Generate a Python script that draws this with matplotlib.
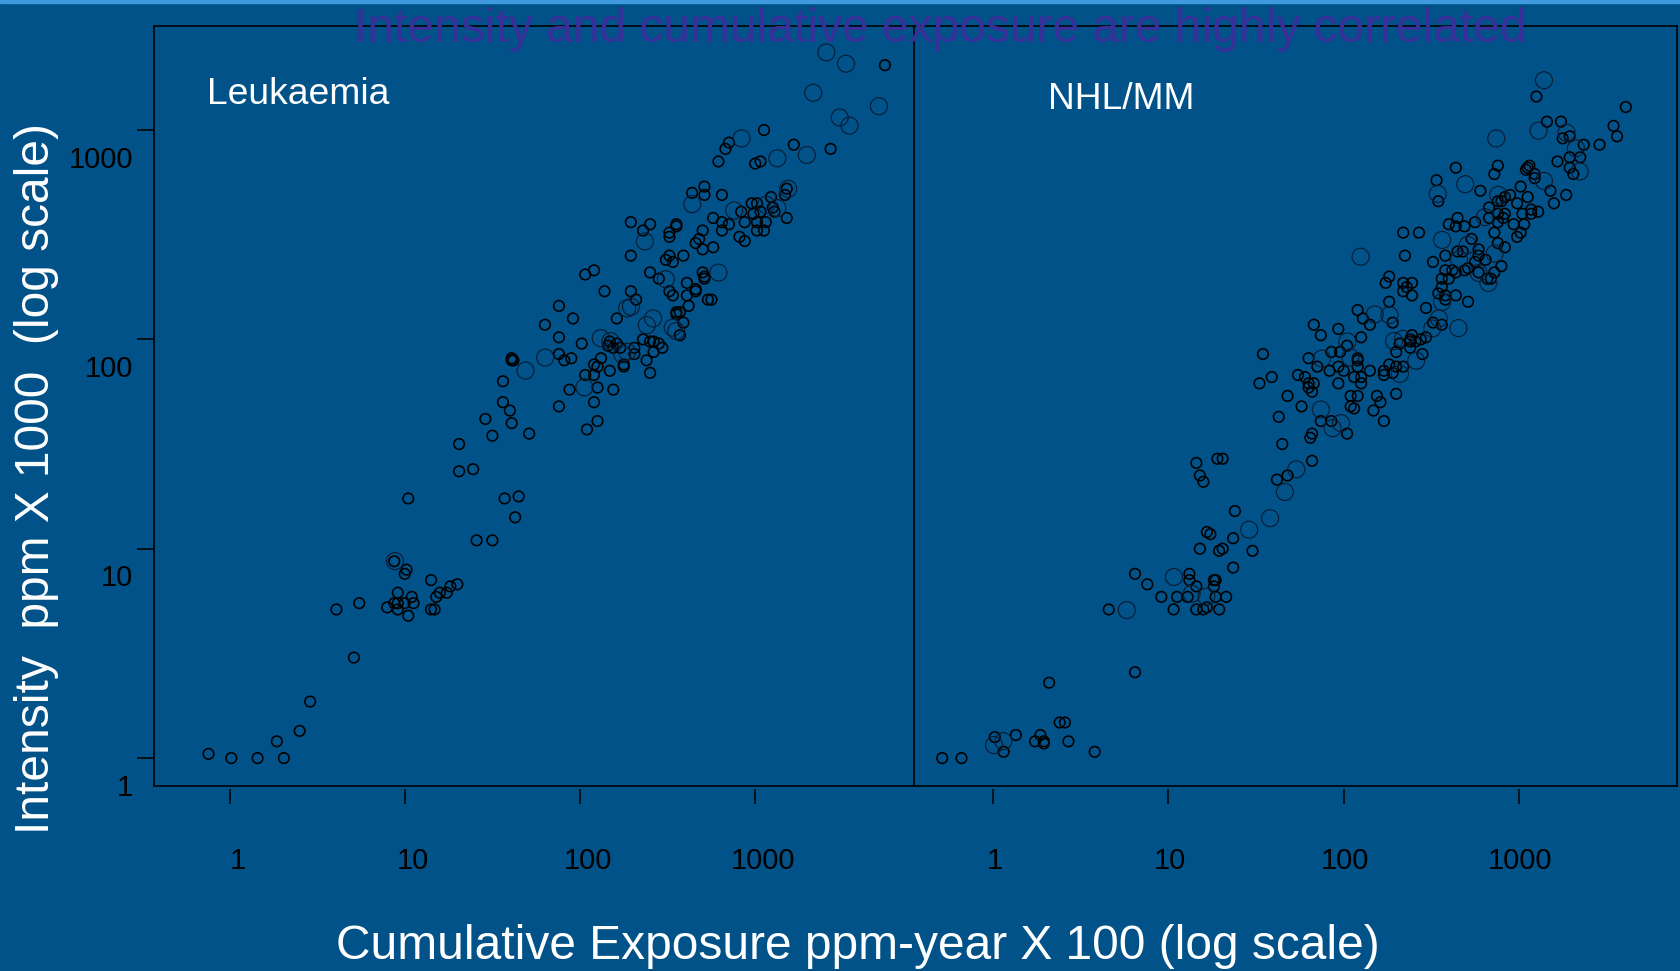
import numpy as np
import matplotlib
matplotlib.use("Agg")
import matplotlib.pyplot as plt
from matplotlib.path import Path
from matplotlib.transforms import ScaledTranslation

plt.rcParams['font.family'] = ['Liberation Sans', 'DejaVu Sans']

x_ticks = [1, 10, 100, 1000]
y_ticks = [1, 10, 100, 1000]
tick_labels = ['1', '10', '100', '1000']
panel_names = ['Leukaemia', 'NHL/MM']
title_text = 'Intensity and cumulative exposure are highly correlated'
x_title = 'Cumulative Exposure ppm-year X 100 (log scale)'
y_title = 'Intensity  ppm X 1000  (log scale)'

# (log10 cumulative exposure, log10 intensity)
leuk_large = [(3.406,3.371),(3.518,3.317),(3.331,3.178),(3.706,3.114),(3.482,3.060),(3.538,3.021),(2.922,2.960),
 (3.294,2.881),(3.126,2.865),(2.641,2.646),(3.188,2.719),(3.062,2.643),(2.880,2.616),(3.126,2.627),(2.370,2.468),
 (2.490,2.287),(2.790,2.319),(2.291,2.156),(2.269,2.148),(2.417,2.100),(2.381,2.068),(2.529,2.056),(2.549,2.040),
 (2.118,2.006),(2.174,1.992),(2.269,1.940),(2.241,1.929),(1.801,1.913),(1.689,1.851),(2.025,1.771),(0.944,0.941)]
leuk_small = [(3.74,3.31),(3.05,3.00),(2.85,2.94),(2.83,2.91),(3.22,2.93),(3.43,2.91),(2.79,2.85),(3.00,2.84),(3.03,2.85),
 (2.71,2.73),(2.64,2.70),(2.71,2.69),(2.81,2.69),(3.18,2.72),(3.17,2.69),(3.09,2.68),(2.98,2.65),(3.01,2.65),(2.92,2.61),
 (3.10,2.63),(3.11,2.61),(3.03,2.61),(2.99,2.60),(2.76,2.58),(3.18,2.58),(2.81,2.56),(2.85,2.55),(2.94,2.56),(3.01,2.56),
 (3.06,2.56),(2.29,2.56),(2.40,2.55),(2.55,2.55),(2.55,2.54),(2.36,2.52),(2.51,2.51),(2.51,2.49),(2.70,2.52),(2.81,2.52),
 (3.01,2.52),(3.05,2.52),(2.68,2.48),(2.66,2.46),(2.70,2.43),(2.76,2.44),(2.91,2.49),(2.94,2.47),(2.29,2.40),(2.51,2.40),
 (2.49,2.38),(2.59,2.40),(2.53,2.37),(2.08,2.33),(2.03,2.31),(2.40,2.32),(2.45,2.29),(2.70,2.32),(2.71,2.30),(2.71,2.29),
 (2.61,2.27),(2.66,2.24),(2.66,2.23),(2.14,2.23),(2.29,2.23),(2.51,2.23),(2.53,2.21),(2.61,2.21),(2.32,2.19),(2.73,2.19),
 (2.75,2.19),(1.88,2.16),(2.62,2.16),(2.55,2.13),(2.57,2.13),(2.55,2.12),(1.96,2.10),(2.21,2.10),(1.80,2.07),(2.59,2.08),
 (2.57,2.02),(1.88,2.01),(2.17,1.99),(2.01,1.98),(2.16,1.97),(2.21,1.98),(2.36,2.00),(2.40,1.99),(2.42,1.99),(2.45,1.98),
 (2.19,1.96),(2.23,1.96),(2.31,1.96),(2.47,1.96),(2.42,1.94),(1.88,1.93),(1.95,1.91),(1.91,1.90),(2.31,1.93),(2.12,1.91),
 (1.61,1.91),(1.62,1.90),(1.61,1.90),(2.38,1.90),(2.08,1.88),(2.25,1.88),(2.25,1.87),(2.10,1.87),(2.17,1.85),(2.03,1.83),
 (2.08,1.83),(2.40,1.84),(1.56,1.80),(2.10,1.77),(1.94,1.76),(2.19,1.76),(2.08,1.70),(1.56,1.70),(1.88,1.68),(1.60,1.66),
 (1.46,1.62),(1.61,1.60),(2.10,1.61),(2.04,1.57),(1.50,1.54),(1.71,1.55),(1.31,1.50),(1.31,1.37),(1.39,1.38),(1.02,1.24),
 (1.57,1.24),(1.65,1.25),(1.63,1.15),(1.41,1.04),(1.50,1.04),(0.94,0.94),(1.01,0.90),(1.00,0.88),(1.15,0.85),(1.30,0.83),
 (1.26,0.82),(1.20,0.79),(1.24,0.79),(0.96,0.79),(1.04,0.77),(1.18,0.77),(0.74,0.74),(0.94,0.74),(0.96,0.74),(1.00,0.74),
 (1.05,0.74),(0.90,0.72),(0.96,0.71),(0.61,0.71),(1.15,0.71),(1.17,0.71),(1.02,0.68),(0.71,0.48),(0.46,0.27),(0.40,0.13),
 (0.27,0.08),(-0.12,0.02),(0.01,0.00),(0.16,0.00),(0.31,0.00)]
nhl_large = [(3.143,3.238),(2.871,2.960),(3.112,2.997),(3.272,2.987),(3.325,2.913),(3.347,2.802),(3.143,2.757),(2.694,2.741),
 (2.537,2.695),(2.882,2.690),(2.806,2.584),(2.562,2.475),(2.708,2.451),(2.097,2.395),(2.862,2.410),(2.658,2.381),(2.770,2.317),
 (2.826,2.270),(2.562,2.179),(2.262,2.116),(2.178,2.119),(2.543,2.100),(2.506,2.052),(2.655,2.054),(2.021,1.990),(2.288,1.992),
 (2.338,2.003),(1.876,1.908),(2.038,1.914),(2.414,1.898),(2.321,1.835),(1.870,1.665),(1.985,1.600),(1.937,1.576),(1.730,1.379),
 (1.665,1.271),(1.581,1.146),(1.461,1.091),(1.032,0.865),(1.133,0.785),(1.217,0.771),(0.763,0.707),(0.059,0.081),(0.006,0.062)]
nhl_small = [(3.10,3.16),(3.61,3.11),(3.16,3.04),(3.24,3.04),(3.54,3.02),(3.56,2.97),(3.25,2.96),(3.29,2.97),(3.37,2.93),
 (3.46,2.93),(3.22,2.85),(3.29,2.87),(3.35,2.87),(3.29,2.82),(3.31,2.79),(2.88,2.83),(2.86,2.79),(2.64,2.82),(3.06,2.83),
 (3.05,2.82),(3.04,2.81),(3.09,2.79),(3.09,2.77),(2.53,2.76),(2.54,2.66),(2.78,2.71),(3.01,2.73),(3.18,2.71),(3.27,2.69),
 (2.95,2.69),(2.92,2.68),(2.90,2.66),(2.88,2.66),(3.05,2.68),(2.99,2.65),(3.20,2.65),(2.83,2.63),(3.07,2.62),(3.07,2.60),
 (3.11,2.61),(3.02,2.60),(2.88,2.60),(2.92,2.60),(2.91,2.58),(2.83,2.58),(2.65,2.58),(2.88,2.56),(2.75,2.56),(2.60,2.55),
 (2.64,2.54),(2.69,2.54),(2.97,2.55),(3.03,2.55),(2.34,2.51),(2.43,2.51),(2.86,2.51),(3.01,2.51),(2.99,2.49),(2.73,2.48),
 (2.88,2.46),(2.92,2.44),(2.77,2.43),(2.65,2.42),(2.68,2.42),(2.35,2.40),(2.58,2.40),(2.77,2.40),(2.51,2.37),(2.81,2.38),
 (2.75,2.37),(2.90,2.35),(2.71,2.34),(2.62,2.33),(2.58,2.33),(2.64,2.32),(2.69,2.33),(2.86,2.32),(2.77,2.32),(2.82,2.29),
 (2.84,2.29),(2.60,2.29),(2.56,2.29),(2.26,2.30),(2.34,2.27),(2.24,2.27),(2.39,2.27),(2.36,2.25),(2.34,2.23),(2.39,2.21),
 (2.56,2.25),(2.54,2.22),(2.58,2.21),(2.64,2.21),(2.58,2.19),(2.71,2.18),(2.26,2.18),(2.47,2.15),(2.08,2.14),(2.11,2.10),
 (2.15,2.07),(2.28,2.08),(2.51,2.08),(2.56,2.07),(1.83,2.07),(1.97,2.05),(1.87,2.02),(2.10,2.01),(2.02,1.97),(2.39,2.02),
 (2.47,2.01),(2.44,2.00),(2.38,2.00),(2.38,1.99),(2.41,1.99),(2.32,1.98),(2.38,1.96),(2.30,1.94),(1.93,1.94),(1.98,1.94),
 (1.54,1.93),(1.80,1.91),(2.45,1.93),(2.08,1.91),(2.08,1.90),(2.26,1.88),(2.30,1.87),(2.34,1.87),(1.85,1.87),(1.97,1.87),
 (2.08,1.87),(1.92,1.85),(2.00,1.85),(2.15,1.85),(2.23,1.85),(2.23,1.83),(2.28,1.84),(1.74,1.83),(1.78,1.82),(1.59,1.82),
 (1.52,1.79),(1.83,1.79),(1.80,1.79),(1.80,1.77),(1.82,1.75),(1.97,1.79),(2.06,1.82),(2.10,1.82),(2.10,1.79),(2.30,1.74),
 (1.68,1.73),(2.04,1.73),(2.08,1.73),(2.19,1.73),(2.21,1.70),(1.76,1.68),(2.04,1.68),(2.06,1.67),(2.17,1.66),
 (1.63,1.63),(1.87,1.61),(1.93,1.61),(2.23,1.61),(2.02,1.55),(1.82,1.55),(1.81,1.53),(1.65,1.50),(1.16,1.41),(1.28,1.43),
 (1.31,1.43),(1.82,1.42),(1.18,1.35),(1.20,1.32),(1.62,1.33),(1.68,1.35),(1.38,1.18),(1.22,1.08),(1.24,1.07),(1.37,1.05),
 (1.18,1.00),(1.31,1.00),(1.29,0.99),(1.48,0.99),(1.37,0.91),(0.81,0.88),(0.88,0.83),(1.12,0.88),(1.12,0.85),(1.26,0.85),
 (1.27,0.85),(1.16,0.82),(1.26,0.82),(0.96,0.77),(1.05,0.77),(1.11,0.77),(1.27,0.77),(1.33,0.77),(0.66,0.71),(1.03,0.71),
 (1.16,0.71),(1.20,0.71),(1.22,0.72),(1.29,0.71),(0.81,0.41),(0.32,0.36),(0.38,0.17),(0.41,0.17),(0.13,0.11),(0.01,0.10),
 (0.27,0.11),(0.24,0.08),(0.29,0.08),(0.29,0.07),(0.43,0.08),(0.06,0.03),(0.58,0.03),(-0.18,0.00),(-0.29,0.00)]

W, H = 1681, 971
BG = '#005288'
fig = plt.figure(figsize=(W / 100, H / 100), dpi=100, facecolor=BG)
fig.patches.append(plt.Rectangle((0, 1 - 3 / H), 1, 3 / H, transform=fig.transFigure, color='#3f9ae0', zorder=5))

top, bottom = 26, 785.5
def make_axes(left, right):
    return fig.add_axes([left / W, 1 - bottom / H, (right - left) / W, (bottom - top) / H], facecolor=BG)

axes = [make_axes(154, 914), make_axes(914, 1677)]
xlims = [(10 ** -0.431, 10 ** 3.906), (10 ** -0.451, 10 ** 3.902)]
ylim = (10 ** -0.131, 10 ** 3.497)
x_label_shift = [8, 1.5]
sets = [(leuk_small, leuk_large), (nhl_small, nhl_large)]
detached_tick = Path([(0, -3), (0, -18)])
for i, (ax, (small, large)) in enumerate(zip(axes, sets)):
    ax.set_xscale('log'); ax.set_yscale('log')
    ax.set_xlim(*xlims[i]); ax.set_ylim(*ylim)
    s = np.array(small); l = np.array(large)
    ax.scatter(10 ** s[:, 0], 10 ** s[:, 1], s=58, facecolors='none', edgecolors='black', linewidths=1.15)
    ax.scatter(10 ** l[:, 0], 10 ** l[:, 1], s=150, facecolors='none', edgecolors='#0a1a30', linewidths=0.8)
    for sp in ax.spines.values():
        sp.set_linewidth(1.15); sp.set_color('black')
    if i == 0:
        ax.spines['right'].set_visible(False)
    ax.minorticks_off()
    ax.set_xticks(x_ticks); ax.set_xticklabels(tick_labels, fontsize=21, color='black')
    ax.tick_params(axis='x', length=13, width=1.1, pad=31, color='black')
    for tick in ax.xaxis.get_major_ticks():
        tick.tick1line.set_marker(detached_tick)
        tick.tick1line.set_markersize(25.92)
    for lab in ax.get_xticklabels():
        lab.set_transform(lab.get_transform() + ScaledTranslation(x_label_shift[i] / 100, 0, fig.dpi_scale_trans))
    if i == 0:
        ax.set_yticks(y_ticks); ax.set_yticklabels(tick_labels, fontsize=21, color='black')
        ax.tick_params(axis='y', length=12.2, width=1.1, pad=3, color='black')
        for lab in ax.get_yticklabels():
            lab.set_transform(lab.get_transform() + ScaledTranslation(0, -26.5 / 100, fig.dpi_scale_trans))
    else:
        ax.set_yticks([]); ax.tick_params(axis='y', length=0)

fig.text(207 / W, 1 - 95 / H, panel_names[0], color='white', fontsize=26.8, va='center', ha='left')
fig.text(1048 / W, 1 - 99.5 / H, panel_names[1], color='white', fontsize=26.8, va='center', ha='left')
fig.text(940 / W, 1 - 30 / H, title_text, color='#38309a', fontsize=34.5, va='center', ha='center', zorder=6)
fig.text(858 / W, 1 - 946 / H, x_title, color='white', fontsize=34.5, va='center', ha='center')
fig.text(36.5 / W, 1 - 478 / H, y_title, color='white', fontsize=34.5, va='center', ha='center', rotation=90)

fig.savefig('out.png', dpi=100, facecolor=BG)
